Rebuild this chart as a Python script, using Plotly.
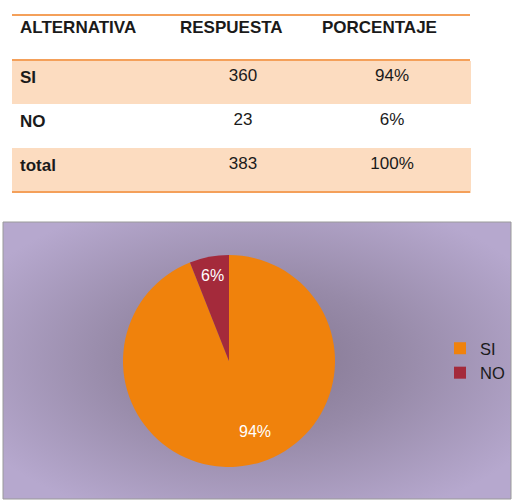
import base64
import math
import plotly.graph_objects as go

# ---- data ----
header_labels = ["ALTERNATIVA", "RESPUESTA", "PORCENTAJE"]
alternatives = ["SI", "NO", "total"]
responses = [360, 23, 383]
percent_labels = ["94%", "6%", "100%"]

pie_labels = ["SI", "NO"]
pie_values = [360, 23]
pie_colors = ["#F0820C", "#A42A3B"]
label_radius = [0.68, 0.82]   # label distance from centre, as a fraction of the radius
label_xshift = [12, 0]        # small horizontal nudge of the slice labels (px)

W, H = 513, 503
FONT = "Liberation Sans, Arial"

def px(x):
    return x / W

def py(y):
    return 1 - y / H

fig = go.Figure()

# ---- table ----
row_fill = ["#FCDCC0", "#FFFFFF", "#FCDCC0"]
fig.add_trace(go.Table(
    domain=dict(x=[px(12), px(470)], y=[py(200), py(10)]),
    columnwidth=[160, 142, 156],
    header=dict(
        values=["<b>%s</b>" % h for h in header_labels],
        align=["left", "left", "left"],
        fill_color="white",
        line=dict(color="white", width=1),
        font=dict(family=FONT, size=17, color="#1a1a1a"),
        height=50,
    ),
    cells=dict(
        values=[["<b>%s</b>" % a for a in alternatives],
                [str(r) for r in responses],
                percent_labels],
        align=["left", "center", "center"],
        fill_color=[row_fill, row_fill, row_fill],
        line=dict(color=[row_fill, row_fill, row_fill], width=1),
        font=dict(family=FONT, size=17, color="#1a1a1a"),
        height=44,
    ),
))

# ---- pie ----
pie_cx, pie_cy, pie_r = 229, 361, 106
fig.add_trace(go.Pie(
    labels=pie_labels,
    values=pie_values,
    sort=False,
    direction="clockwise",
    rotation=0,
    marker=dict(colors=pie_colors, line=dict(width=0)),
    textinfo="none",
    domain=dict(x=[px(pie_cx - pie_r), px(pie_cx + pie_r)],
                y=[py(pie_cy + pie_r), py(pie_cy - pie_r)]),
    hoverinfo="label+percent",
))

# slice labels, placed on each slice's bisector (computed from the values)
total = sum(pie_values)
annotations = []
start = 0.0
for v, f, dx in zip(pie_values, label_radius, label_xshift):
    frac = v / total
    mid = (start + frac / 2) * 2 * math.pi  # clockwise from top
    lx = pie_cx + f * pie_r * math.sin(mid)
    ly = pie_cy - f * pie_r * math.cos(mid)
    annotations.append(dict(
        x=px(lx), y=py(ly), xref="paper", yref="paper", showarrow=False,
        text="%d%%" % round(frac * 100), xshift=dx,
        font=dict(family=FONT, size=16, color="white"),
        xanchor="center", yanchor="middle",
    ))
    start += frac

# ---- background gradient for the chart box ----
svg = (
    '<svg xmlns="http://www.w3.org/2000/svg" width="508" height="277" '
    'viewBox="0 0 508 277" preserveAspectRatio="none">'
    '<defs><radialGradient id="g" cx="0.5" cy="0.5" r="0.62">'
    '<stop offset="0" stop-color="#837690"/>'
    '<stop offset="0.45" stop-color="#978aa8"/>'
    '<stop offset="1" stop-color="#b6a8ce"/>'
    '</radialGradient></defs>'
    '<rect width="508" height="277" fill="url(#g)"/></svg>'
)
src = "data:image/svg+xml;base64," + base64.b64encode(svg.encode()).decode()

line_style = dict(color="#F4A05A", width=2)
fig.update_layout(
    width=W, height=H,
    margin=dict(l=0, r=0, t=0, b=0),
    paper_bgcolor="white",
    plot_bgcolor="white",
    images=[dict(
        source=src, xref="paper", yref="paper",
        x=px(3), y=py(222), sizex=px(511) - px(3), sizey=py(222) - py(499),
        xanchor="left", yanchor="top", sizing="stretch", layer="below",
    )],
    shapes=[
        dict(type="rect", xref="paper", yref="paper",
             x0=px(3), x1=px(511), y0=py(499), y1=py(222),
             line=dict(color="#9a9a9a", width=1), layer="below"),
        dict(type="line", xref="paper", yref="paper",
             x0=px(12), x1=px(470), y0=py(15), y1=py(15), line=line_style),
        dict(type="line", xref="paper", yref="paper",
             x0=px(12), x1=px(470), y0=py(60), y1=py(60), line=line_style),
        dict(type="line", xref="paper", yref="paper",
             x0=px(12), x1=px(470), y0=py(192), y1=py(192), line=line_style),
    ],
    annotations=annotations,
    showlegend=True,
    legend=dict(
        x=px(440), y=py(331), xanchor="left", yanchor="top",
        bgcolor="rgba(0,0,0,0)",
        font=dict(family=FONT, size=16.5, color="#1a1a1a"),
        itemwidth=30, tracegroupgap=0,
    ),
)

fig.write_html("out.html")
